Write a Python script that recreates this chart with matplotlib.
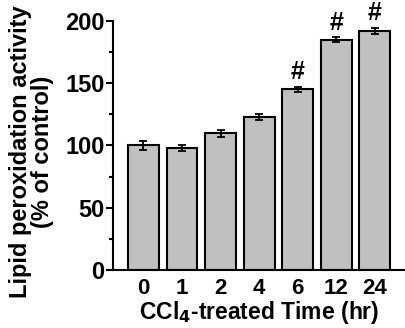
import numpy as np
import matplotlib
matplotlib.use('Agg')
import matplotlib.pyplot as plt
from matplotlib.ticker import MultipleLocator

times = ['0', '1', '2', '4', '6', '12', '24']
activity = [100, 98, 110, 123, 145, 185, 192]
errors = [3.5, 2.5, 2.8, 2.5, 2, 2, 2.5]
marks = ['', '', '', '', '#', '#', '#']

plt.rcParams['font.family'] = 'Liberation Sans'
plt.rcParams['font.weight'] = 'bold'

fig = plt.figure(figsize=(4.05, 3.28), dpi=100)
ax = fig.add_axes([0.279, 0.177, 0.721, 0.759])

x = np.arange(len(times))
ax.bar(x, activity, width=0.8, color='#c0c0c0', edgecolor='black', linewidth=1.5,
       yerr=errors, error_kw=dict(ecolor='black', elinewidth=1.3, capsize=3, capthick=1.3))

for xi, v, e, m in zip(x, activity, errors, marks):
    if m:
        ax.text(xi, v + e + 2, m, ha='center', va='bottom', fontsize=18,
                fontweight='bold', clip_on=False)

ax.set_xlim(-0.79, 6.78)
ax.set_ylim(0, 200)
ax.yaxis.set_major_locator(MultipleLocator(50))
ax.yaxis.set_minor_locator(MultipleLocator(25))
ax.spines['top'].set_visible(False)
ax.spines['right'].set_visible(False)
ax.spines['left'].set_linewidth(1.5)
ax.spines['bottom'].set_linewidth(1.5)
ax.tick_params(axis='y', which='major', length=5, width=1.5, labelsize=17, pad=1)
ax.tick_params(axis='y', which='minor', length=3, width=1.5)
ax.tick_params(axis='x', length=0, labelsize=16, pad=6)
ax.set_xticks(x)
ax.set_xticklabels(times)
for lbl in ax.get_xticklabels() + ax.get_yticklabels():
    lbl.set_fontweight('bold')

ax.set_xlabel('CCl$_\\mathbf{4}$-treated Time (hr)', fontsize=16.5, fontweight='bold', labelpad=0)
ax.set_ylabel('Lipid peroxidation activity\n(% of control)', fontsize=17,
              fontweight='bold', linespacing=0.95)
ax.yaxis.set_label_coords(-0.203, 0.474)

fig.savefig('out.png', dpi=100)
